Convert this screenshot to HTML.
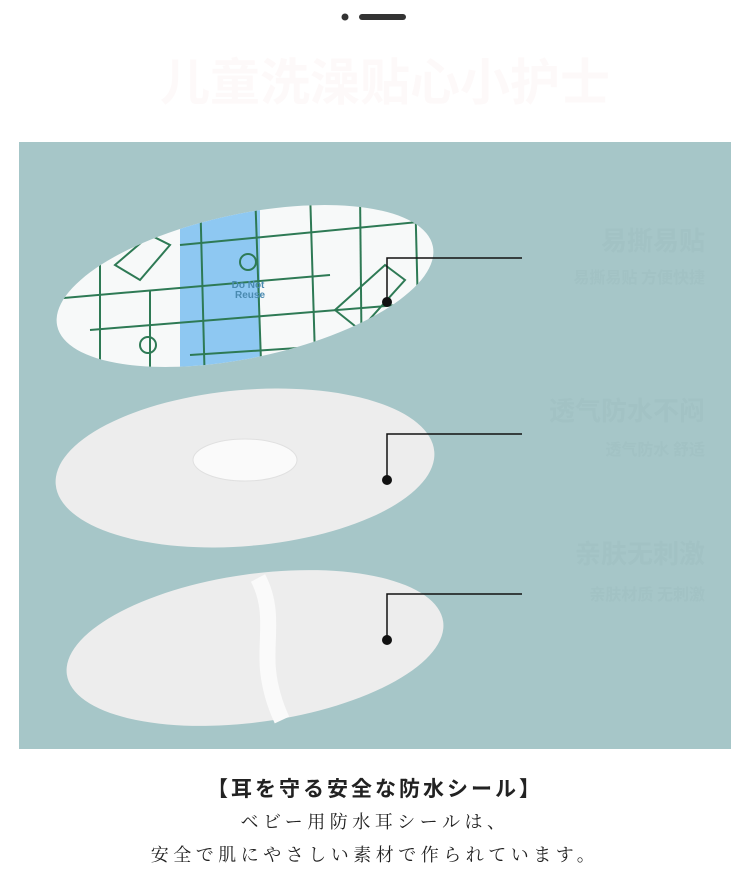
<!DOCTYPE html>
<html><head><meta charset="utf-8"><style>
body{margin:0;width:750px;height:880px;background:#fff;overflow:hidden;position:relative;font-family:"Liberation Sans","Noto Sans CJK JP",sans-serif}
.t{position:absolute;left:0;width:750px;text-align:center;white-space:nowrap}
</style></head><body>
<svg width="750" height="880" style="position:absolute;left:0;top:0">
<circle cx="345" cy="17" r="3.5" fill="#333"/>
<rect x="359" y="14" width="47" height="6" rx="3" fill="#333"/>
<text x="385" y="100" text-anchor="middle" font-size="50" font-weight="bold" fill="#fdf9f9" font-family="Noto Sans CJK SC,sans-serif">儿童洗澡贴心小护士</text>
<rect x="19" y="142" width="712" height="607" fill="#a6c6c8"/>
<g font-family="Noto Sans CJK SC,sans-serif" font-weight="bold" fill="#a2c2c4">
<text x="705" y="250" font-size="26" text-anchor="end">易撕易贴</text>
<text x="705" y="283" font-size="16" text-anchor="end">易撕易贴 方便快捷</text>
<text x="705" y="420" font-size="26" text-anchor="end">透气防水不闷</text>
<text x="705" y="455" font-size="16" text-anchor="end">透气防水 舒适</text>
<text x="705" y="563" font-size="26" text-anchor="end">亲肤无刺激</text>
<text x="705" y="600" font-size="16" text-anchor="end">亲肤材质 无刺激</text>
</g>
<defs><clipPath id="c1"><ellipse cx="245" cy="286" rx="192" ry="72" transform="rotate(-12 245 286)"/></clipPath></defs>
<g clip-path="url(#c1)">
<rect x="40" y="190" width="420" height="200" fill="#f7f9f9"/>
<rect x="180" y="190" width="80" height="200" fill="#8ec8f2"/>
<g stroke="#2e7a55" stroke-width="2" fill="none">
<line x1="200" y1="190" x2="205" y2="390"/><line x1="255" y1="190" x2="262" y2="390"/>
<line x1="310" y1="190" x2="316" y2="390"/><line x1="360" y1="190" x2="362" y2="390"/>
<line x1="415" y1="190" x2="420" y2="390"/><line x1="100" y1="190" x2="100" y2="390"/>
<line x1="150" y1="290" x2="150" y2="390"/>
<line x1="40" y1="300" x2="330" y2="275"/><line x1="90" y1="330" x2="460" y2="300"/>
<line x1="180" y1="245" x2="460" y2="218"/><line x1="190" y1="355" x2="420" y2="340"/>
<path d="M115 265 L150 235 L170 245 L140 280 Z"/>
<path d="M335 310 L385 265 L405 280 L360 330 Z"/>
<circle cx="248" cy="262" r="8"/><circle cx="148" cy="345" r="8"/>
</g>
<text x="248" y="288" font-size="10" font-weight="bold" fill="#4a8ab0" text-anchor="middle">Do Not</text>
<text x="250" y="298" font-size="10" font-weight="bold" fill="#4a8ab0" text-anchor="middle">Reuse</text>
</g>
<ellipse cx="245" cy="468" rx="190" ry="78" transform="rotate(-5 245 468)" fill="#ededed"/>
<ellipse cx="245" cy="460" rx="52" ry="21" fill="#fafafa" stroke="#e0e0e0"/>
<ellipse cx="255" cy="648" rx="190" ry="74" transform="rotate(-8 255 648)" fill="#ededed"/>
<path d="M258 578 C275 610 265 640 268 670 C270 690 275 705 282 720" stroke="#fafafa" stroke-width="16" fill="none"/>
<g stroke="#111" stroke-width="1.5" fill="none">
<polyline points="522,258 387,258 387,302"/>
<polyline points="522,434 387,434 387,480"/>
<polyline points="522,594 387,594 387,640"/>
</g>
<circle cx="387" cy="302" r="5" fill="#111"/>
<circle cx="387" cy="480" r="5" fill="#111"/>
<circle cx="387" cy="640" r="5" fill="#111"/>
</svg>
<div class="t" style="top:773px;font-size:21px;font-weight:bold;letter-spacing:3px;color:#222;font-family:'Liberation Sans','Noto Sans CJK JP',sans-serif">【耳を守る安全な防水シール】</div>
<div class="t" style="top:808px;font-size:18px;letter-spacing:4.5px;color:#222;font-family:'Liberation Serif','Noto Serif CJK SC',serif">ベビー用防水耳シールは、</div>
<div class="t" style="top:841px;font-size:18px;letter-spacing:4.5px;color:#222;font-family:'Liberation Serif','Noto Serif CJK SC',serif">安全で肌にやさしい素材で作られています。</div>
</body></html>
